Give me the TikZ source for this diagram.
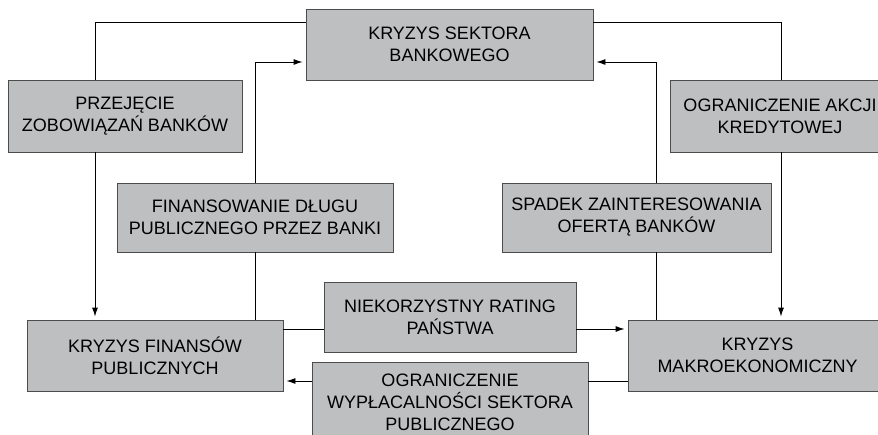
\documentclass[tikz,border=0pt]{standalone}
\usepackage{fontspec}
\setmainfont{Liberation Sans}
\usetikzlibrary{arrows.meta}
\usetikzlibrary{positioning}
\definecolor{boxgray}{RGB}{190,191,193}
\tikzset{blok/.style = {draw = black!70, fill = boxgray, line width = 0.9pt, align = center, inner sep = 0, font = \fontsize{18}{22}\selectfont}}
\tikzset{arr/.style = {-{Latex[length = 9pt, width = 6pt]}, shorten > = 3pt}}

\begin{document}
\begin{tikzpicture}[x=1pt, y=-1pt, line width=0.9pt]
    \clip (0, 0) rectangle (878, 434);
    \node [blok, minimum width = 287pt, minimum height = 71pt] (bank) at (449.5, 44.5) {KRYZYS SEKTORA\\BANKOWEGO};
    \node [blok, minimum width = 234pt, minimum height = 72pt] (przej) at (125, 116) {PRZEJĘCIE\\ZOBOWIĄZAŃ BANKÓW};
    \node [blok, minimum width = 220pt, minimum height = 72pt] (akcji) at (780, 116) {OGRANICZENIE AKCJI\\KREDYTOWEJ};
    \node [blok, minimum width = 276pt, minimum height = 69pt] (finans) at (255, 217.5) {FINANSOWANIE DŁUGU\\PUBLICZNEGO PRZEZ BANKI};
    \node [blok, minimum width = 269pt, minimum height = 69pt] (spadek) at (636.5, 217.5) {SPADEK ZAINTERESOWANIA\\OFERTĄ BANKÓW};
    \node [blok, minimum width = 252pt, minimum height = 70pt] (rating) at (450, 317) {NIEKORZYSTNY RATING\\PAŃSTWA};
    \node [blok, minimum width = 256pt, minimum height = 71pt] (kf) at (155, 355.5) {KRYZYS FINANSÓW\\PUBLICZNYCH};
    \node [blok, minimum width = 259pt, minimum height = 71pt] (km) at (757.5, 355.5) {KRYZYS\\MAKROEKONOMICZNY};
    \node [blok, minimum width = 276pt, minimum height = 81pt] (wypl) at (450, 402.5) {OGRANICZENIE\\WYPŁACALNOŚCI SEKTORA\\PUBLICZNEGO};

    \coordinate (lg) at (95, 22);
    \coordinate (pg) at (781, 22);
    \coordinate (fl) at (255, 62);
    \coordinate (sp) at (656, 62);
    \coordinate (rt) at (0, 329);
    \coordinate (dl) at (0, 381);

    \draw (bank.west |- lg) -- (lg) -- (lg |- przej.north);
    \draw [arr] (lg |- przej.south) -- (lg |- kf.north);
    \draw (bank.east |- pg) -- (pg) -- (pg |- akcji.north);
    \draw [arr] (pg |- akcji.south) -- (pg |- km.north);

    \draw [arr] (finans.north) |- (bank.west |- fl);
    \draw (finans.south) -- (finans.south |- kf.north);
    \draw [arr] (sp |- spadek.north) |- (bank.east |- sp);
    \draw (sp |- spadek.south) -- (sp |- km.north);

    \draw (kf.east |- rt) -- (rating.west |- rt);
    \draw [arr] (rating.east |- rt) -- (km.west |- rt);
    \draw (km.west |- dl) -- (wypl.east |- dl);
    \draw [arr] (wypl.west |- dl) -- (kf.east |- dl);
  \end{tikzpicture}
\end{document}
